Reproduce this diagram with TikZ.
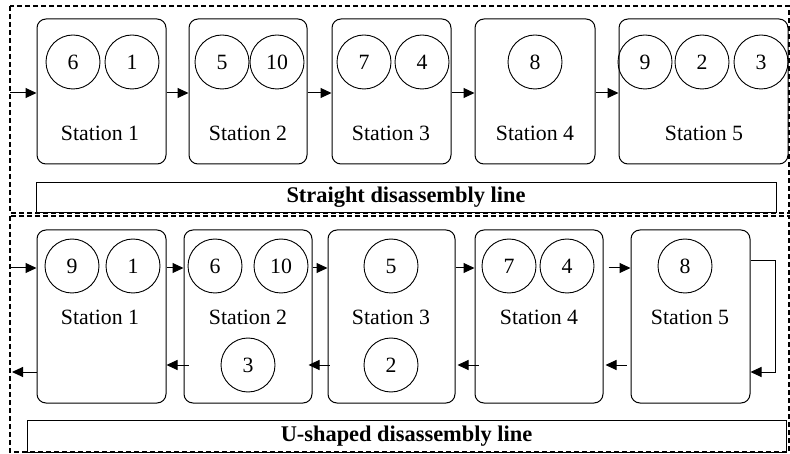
\documentclass[tikz,border=0pt]{standalone}
\usepackage{fontspec}
\setmainfont{Liberation Serif}
\usetikzlibrary{arrows.meta,calc}
\begin{document}
\begin{tikzpicture}[x=1pt,y=-1pt,
  every node/.style={font=\fontsize{21.8}{24}\selectfont},
  frame/.style={draw,line width=1.1pt,dash pattern=on 5pt off 3pt},
  stationbox/.style={draw,line width=1.0pt,rounded corners=9pt,inner sep=0pt},
  part/.style={draw,circle,line width=0.9pt,minimum size=54pt,inner sep=0pt},
  caption/.style={draw,line width=0.9pt,inner sep=0pt,font=\fontsize{22.4}{24}\selectfont\bfseries},
  flow/.style={line width=1.0pt,-{Triangle[length=11pt,width=10pt]}}
]
\useasboundingbox (0,0) rectangle (790,454);

% ---------- straight line ----------
\draw[frame] (10,6) rectangle (789,213);

\node[stationbox,minimum width=129pt,minimum height=145pt] (a1) at (101.5,91.5) {};
\node[stationbox,minimum width=118pt,minimum height=145pt] (a2) at (248,91.5) {};
\node[stationbox,minimum width=119pt,minimum height=145pt] (a3) at (391.5,91.5) {};
\node[stationbox,minimum width=120pt,minimum height=145pt] (a4) at (535,91.5) {};
\node[stationbox,minimum width=169pt,minimum height=145pt] (a5) at (703.5,91.5) {};

\node[part] (a1p1) at (73,62) {6};
\node[part] (a1p2) at (132,62) {1};
\node[part] (a2p1) at (222,62) {5};
\node[part] (a2p2) at (277,62) {10};
\node[part] (a3p1) at (364,62) {7};
\node[part] (a3p2) at (422,62) {4};
\node[part] (a4p1) at (535,62) {8};
\node[part] (a5p1) at (645,62) {9};
\node[part] (a5p2) at (702,62) {2};
\node[part] (a5p3) at (761,62) {3};

\node (a1t) at (100,133) {Station 1};
\node (a2t) at (248,133) {Station 2};
\node (a3t) at (391,133) {Station 3};
\node (a4t) at (535,133) {Station 4};
\node (a5t) at (704,133) {Station 5};

\coordinate (ain) at (10,93);
\draw[flow] (ain) -- (ain -| a1.west);
\draw[flow] ([yshift=-1.5pt]a1.east) -- ([yshift=-1.5pt]a2.west);
\draw[flow] ([yshift=-1.5pt]a2.east) -- ([yshift=-1.5pt]a3.west);
\draw[flow] ([yshift=-1.5pt]a3.east) -- ([yshift=-1.5pt]a4.west);
\draw[flow] ([yshift=-1.5pt]a4.east) -- ([yshift=-1.5pt]a5.west);

\node[caption,minimum width=740pt,minimum height=30pt] (acap) at (406,197.5) {Straight disassembly line};

% ---------- U-shaped line ----------
\draw[frame] (10,216) rectangle (789,452);

\node[stationbox,minimum width=129pt,minimum height=173pt] (b1) at (101.5,316.5) {};
\node[stationbox,minimum width=128pt,minimum height=173pt] (b2) at (248,316.5) {};
\node[stationbox,minimum width=127pt,minimum height=173pt] (b3) at (391.5,316.5) {};
\node[stationbox,minimum width=128pt,minimum height=173pt] (b4) at (539,316.5) {};
\node[stationbox,minimum width=119pt,minimum height=173pt] (b5) at (690.5,316.5) {};

\node[part] (b1p1) at (72,266) {9};
\node[part] (b1p2) at (133,266) {1};
\node[part] (b2p1) at (215,266) {6};
\node[part] (b2p2) at (281,266) {10};
\node[part] (b2p3) at (248,365) {3};
\node[part] (b3p1) at (391,266) {5};
\node[part] (b3p2) at (391,365) {2};
\node[part] (b4p1) at (509,266) {7};
\node[part] (b4p2) at (567,266) {4};
\node[part] (b5p1) at (685,266) {8};

\node (b1t) at (100,317) {Station 1};
\node (b2t) at (248,317) {Station 2};
\node (b3t) at (391,317) {Station 3};
\node (b4t) at (539,317) {Station 4};
\node (b5t) at (690,317) {Station 5};

% forward direction
\coordinate (bin) at (10,268);
\draw[flow] (bin) -- (bin -| b1.west);
\draw[flow] ([yshift=48.5pt]b1.east) -- ([yshift=48.5pt]b2.west);
\draw[flow] ([yshift=48.5pt]b2.east) -- ([yshift=48.5pt]b3.west);
\draw[flow] ([yshift=48.5pt]b3.east) -- ([yshift=48.5pt]b4.west);
\draw[flow] ([xshift=5pt,yshift=48.5pt]b4.east) -- ([yshift=48.5pt]b5.west);

% turn-around
\draw[flow] ([yshift=55.5pt]b5.east) -- ++(25,0) |- ([yshift=-55.5pt]b5.east);

% return direction
\draw[flow] ([xshift=-4pt,yshift=-48.5pt]b5.west) -- ([xshift=2pt,yshift=-48.5pt]b4.east);
\draw[flow] ([xshift=4pt,yshift=-48.5pt]b4.west) -- ([xshift=2pt,yshift=-48.5pt]b3.east);
\draw[flow] ([xshift=2pt,yshift=-48.5pt]b3.west) -- ([xshift=-4pt,yshift=-48.5pt]b2.east);
\draw[flow] ([xshift=5pt,yshift=-48.5pt]b2.west) -- ([yshift=-48.5pt]b1.east);
\coordinate (bout) at (12,372);
\draw[flow] ([yshift=-55.5pt]b1.west) -- (bout);

\node[caption,minimum width=759pt,minimum height=32pt] (bcap) at (406.5,436) {U-shaped disassembly line};
\end{tikzpicture}
\end{document}
